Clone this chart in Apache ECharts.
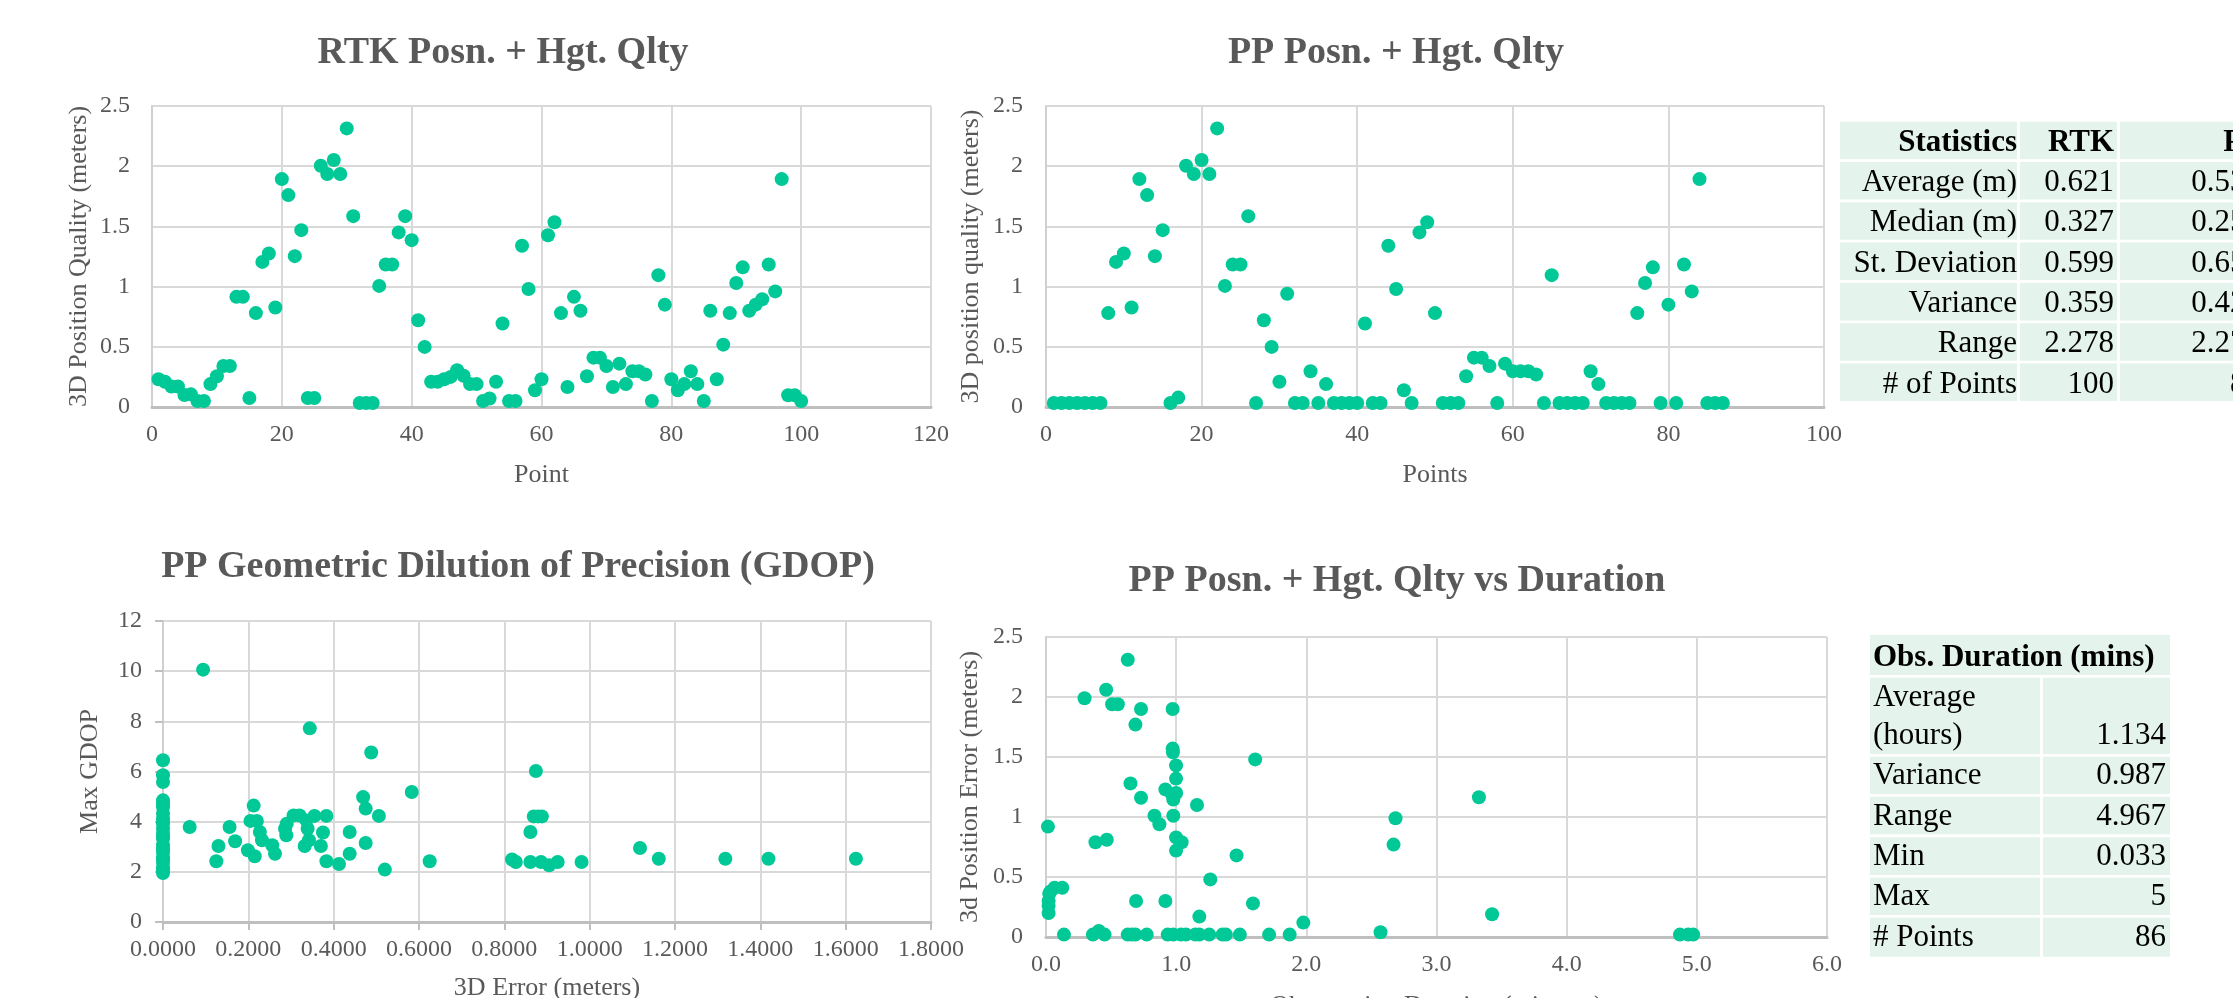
<!DOCTYPE html>
<html><head><meta charset="utf-8">
<script src="https://cdn.jsdelivr.net/npm/echarts@6/dist/echarts.min.js"></script>
<style>html,body{margin:0;padding:0;background:#fff;overflow:hidden}#c{width:2233px;height:998px}</style>
</head><body><div id="c"></div>
<script>
// ---------- DATA ----------
const rtkY = [0.23,0.21,0.17,0.17,0.10,0.105,0.05,0.05,0.19,0.255,
  0.34,0.34,0.915,0.915,0.075,0.78,1.205,1.275,0.826,1.893,
  1.76,1.253,1.469,0.075,0.075,2.004,1.935,2.051,1.935,2.314,
  1.585,0.033,0.033,0.033,1.006,1.183,1.183,1.45,1.585,1.386,
  0.72,0.499,0.21,0.21,0.23,0.25,0.305,0.26,0.19,0.19,
  0.05,0.07,0.21,0.693,0.05,0.05,1.339,0.98,0.139,0.23,
  1.427,1.535,0.78,0.166,0.915,0.80,0.255,0.41,0.41,0.34,
  0.166,0.36,0.19,0.297,0.297,0.27,0.05,1.095,0.85,0.23,
  0.139,0.19,0.297,0.19,0.05,0.80,0.23,0.518,0.78,1.03,
  1.16,0.80,0.85,0.895,1.183,0.96,1.893,0.097,0.097,0.05];

const ppY = [0.033,0.033,0.033,0.033,0.033,0.033,0.033,0.78,1.205,1.275,
  0.826,1.893,1.76,1.253,1.469,0.033,0.078,2.004,1.935,2.051,
  1.935,2.314,1.006,1.183,1.183,1.585,0.033,0.72,0.499,0.21,
  0.94,0.033,0.033,0.297,0.033,0.19,0.033,0.033,0.033,0.033,
  0.693,0.033,0.033,1.339,0.98,0.139,0.033,1.45,1.535,0.78,
  0.033,0.033,0.033,0.255,0.41,0.41,0.34,0.033,0.36,0.297,
  0.297,0.297,0.27,0.033,1.095,0.033,0.033,0.033,0.033,0.297,
  0.19,0.033,0.033,0.033,0.033,0.78,1.03,1.16,0.033,0.85,
  0.033,1.183,0.96,1.893,0.033,0.033,0.033];

const gdopErr = [0,0,0,0,0,0,0,0,0,0,0,0,0,0,0,0,0,0,0,0,0,0,0,
  0.0625,0.094,0.125,0.13,0.156,0.169,0.199,0.205,0.2125,0.215,0.22,0.227,0.232,0.256,0.2625,
  0.286,0.289,0.29,0.306,0.32,0.332,0.336,0.339,0.342,0.344,0.355,0.37,0.375,0.383,0.383,
  0.4125,0.4375,0.4375,0.469,0.475,0.475,0.488,0.506,0.52,0.583,0.625,
  0.818,0.827,0.861,0.861,0.874,0.869,0.879,0.888,0.886,0.905,0.925,0.981,
  1.118,1.162,1.318,1.419,1.624];
const gdopMax = [6.45,5.85,5.58,4.85,4.7,4.58,4.32,4.12,4.0,3.92,3.72,3.52,3.4,3.32,3.06,2.9,2.79,2.59,2.5,2.39,2.19,2.1,1.95,
  3.79,10.06,2.42,3.03,3.79,3.22,2.86,4.03,4.64,2.62,4.03,3.59,3.26,3.06,2.72,
  3.72,3.46,3.92,4.25,4.25,3.03,4.05,3.72,3.26,7.72,4.23,3.03,3.57,4.23,2.42,
  2.31,3.59,2.72,4.98,4.52,3.15,6.76,4.23,2.09,5.18,2.42,
  2.49,2.39,3.59,2.39,6.02,4.21,4.21,4.21,2.39,2.26,2.39,2.39,
  2.95,2.52,2.52,2.52,2.52];

const durMins = [0.015,0.02,0.02,0.02,0.025,0.035,0.066,0.125,0.138,0.296,
  0.36,0.38,0.406,0.45,0.462,0.467,0.508,0.552,0.628,0.628,
  0.649,0.66,0.687,0.687,0.692,0.73,0.73,0.774,0.833,0.871,
  0.917,0.917,0.935,0.973,0.973,0.975,0.999,0.999,0.968,1.0,
  0.978,0.978,0.999,1.042,0.999,0.978,1.037,1.075,1.147,1.178,
  1.254,1.16,1.178,1.262,1.356,1.382,1.464,1.489,1.59,1.607,
  1.714,1.872,1.977,2.57,2.67,2.685,3.326,3.427,4.87,4.934,4.972];
const durErr = [0.92,0.20,0.26,0.30,0.36,0.38,0.41,0.41,0.02,1.99,
  0.02,0.79,0.05,0.02,2.06,0.81,1.94,1.94,2.31,0.02,
  1.28,0.02,1.77,0.02,0.30,1.90,1.16,0.02,1.01,0.94,
  1.23,0.30,0.02,1.90,1.57,1.54,1.43,1.32,1.19,1.20,
  1.145,1.01,0.83,0.79,0.72,0.02,0.02,0.02,0.02,0.02,
  0.02,1.10,0.17,0.48,0.02,0.02,0.68,0.02,0.28,1.48,
  0.02,0.02,0.12,0.04,0.77,0.99,1.164,0.19,0.02,0.02,0.02];

const statsLabels = ['Statistics','Average (m)','Median (m)','St. Deviation','Variance','Range','# of Points'];
const rtkStats = ['RTK','0.621','0.327','0.599','0.359','2.278','100'];
const ppStats = ['PP','0.531','0.254','0.652','0.425','2.278','86'];

const durHeader = 'Obs. Duration (mins)';
const durLabels = ['Average\n(hours)','Variance','Range','Min','Max','# Points'];
const durValues = ['1.134','0.987','4.967','0.033','5','86'];

const titles = ['RTK Posn. + Hgt. Qlty','PP Posn. + Hgt. Qlty','PP Geometric Dilution of Precision (GDOP)','PP Posn. + Hgt. Qlty vs Duration'];

// ---------- STYLE ----------
const FONT = "'Liberation Serif','Times New Roman',serif";
const GREY = '#595959';
const DOT = '#00C896';
const CELL = '#E4F4EC';

function xAx(gi, min, max, interval, name, o) {
  const a = {type:'value', gridIndex:gi, min, max, interval, name, nameLocation:'middle', nameGap:o.nameGap,
    nameTextStyle:{fontFamily:FONT, fontSize:26, color:GREY},
    axisLine:{show:true, onZero:false, lineStyle:{color:'#BFBFBF', width:3}},
    axisTick:{show:!!o.ticks, length:8, lineStyle:{color:'#BFBFBF', width:2}},
    axisLabel:{margin:o.margin, fontFamily:FONT, fontSize:24, color:GREY},
    splitLine:{show:true, lineStyle:{color:'#D9D9D9', width:2}}};
  if (o.fmt) a.axisLabel.formatter = o.fmt;
  return a;
}
function yAx(gi, min, max, interval, name, o) {
  const a = xAx(gi, min, max, interval, name, o);
  a.axisLine.lineStyle = {color:'#D0D0D0', width:2};
  return a;
}

const titleOpts = [[503,34],[1396,34],[518,548],[1397,562]].map((p,i)=>({
  text: titles[i], left:p[0], top:p[1], textAlign:'center', padding:0,
  textStyle:{fontFamily:FONT, fontSize:38, fontWeight:'bold', color:GREY}
}));

// ---------- TABLES ----------
const graphics = [];
function txt(x, y, s, align, bold, lh) {
  graphics.push({type:'text', x, y, silent:true, style:{text:s, x:0, y:0, fill:'#000',
    font:(bold?'bold ':'')+'31px '+FONT, fontFamily:FONT, fontSize:31, fontWeight:bold?'bold':'normal',
    align:align, textAlign:align, verticalAlign:'middle', textVerticalAlign:'middle', lineHeight:lh||34}});
}
function rect(x, y, w, h) {
  graphics.push({type:'rect', silent:true, shape:{x, y, width:w, height:h}, style:{fill:CELL}});
}
// statistics table
const cols1 = [[1840,177],[2020,97],[2120,150]];
statsLabels.forEach((lab,i)=>{
  const top = 121.7 + i*40.3;
  cols1.forEach(c=>rect(c[0], top, c[1], 37.5));
  txt(2017, top+21, lab, 'right', i===0);
  txt(2114, top+21, rtkStats[i], 'right', i===0);
  txt(2261, top+21, ppStats[i], 'right', i===0);
});
// duration table
rect(1870, 635, 300, 40);
txt(1873, 658, durHeader, 'left', true);
const rowsD = [[677.7,76.3],[756.7,37.3],[796.7,37.6],[837.3,37.7],[877.7,37.3],[917.7,39]];
durLabels.forEach((lab,i)=>{
  const r = rowsD[i];
  rect(1870, r[0], 170, r[1]);
  rect(2043, r[0], 127, r[1]);
  const cy = r[0] + r[1]/2 + 1;
  if (i===0) {
    txt(1873, cy, lab, 'left', false, 38);
    txt(2166, cy+19, durValues[i], 'right', false);
  } else {
    txt(1873, cy, lab, 'left', false);
    txt(2166, cy, durValues[i], 'right', false);
  }
});

// ---------- CHART ----------
const chart = echarts.init(document.getElementById('c'), null, {renderer:'canvas', width:2233, height:998});
const sym = {symbol:'circle', symbolSize:14, itemStyle:{color:DOT, opacity:1}, emphasis:{disabled:true}};
const G = {outerBoundsMode:'none', containLabel:false};
chart.setOption({
  backgroundColor:'#ffffff',
  animation:false,
  title: titleOpts,
  grid:[
    Object.assign({left:152, top:106, width:779, height:301}, G),
    Object.assign({left:1046, top:106, width:778, height:301}, G),
    Object.assign({left:163, top:621, width:768, height:301}, G),
    Object.assign({left:1046, top:637, width:781, height:300}, G)
  ],
  xAxis:[
    xAx(0,0,120,20,'Point',{nameGap:55, margin:16}),
    xAx(1,0,100,20,'Points',{nameGap:55, margin:16}),
    xAx(2,0,1.8,0.2,'3D Error (meters)',{nameGap:53, margin:16, ticks:true, fmt:v=>v.toFixed(4)}),
    xAx(3,0,6,1,'Observation Duration (minutes)',{nameGap:56, margin:16, fmt:v=>v.toFixed(1)})
  ],
  yAxis:[
    yAx(0,0,2.5,0.5,'3D Position Quality (meters)',{nameGap:60, margin:22}),
    yAx(1,0,2.5,0.5,'3D position quality (meters)',{nameGap:62, margin:23}),
    yAx(2,0,12,2,'Max GDOP',{nameGap:60, margin:21, ticks:true}),
    yAx(3,0,2.5,0.5,'3d Position Error (meters)',{nameGap:63, margin:23})
  ],
  series:[
    Object.assign({type:'scatter', xAxisIndex:0, yAxisIndex:0, data:rtkY.map((v,i)=>[i+1,v])}, sym),
    Object.assign({type:'scatter', xAxisIndex:1, yAxisIndex:1, data:ppY.map((v,i)=>[i+1,v])}, sym),
    Object.assign({type:'scatter', xAxisIndex:2, yAxisIndex:2, data:gdopErr.map((v,i)=>[v,gdopMax[i]])}, sym),
    Object.assign({type:'scatter', xAxisIndex:3, yAxisIndex:3, data:durMins.map((v,i)=>[v,durErr[i]])}, sym)
  ],
  graphic: graphics
});
</script></body></html>
